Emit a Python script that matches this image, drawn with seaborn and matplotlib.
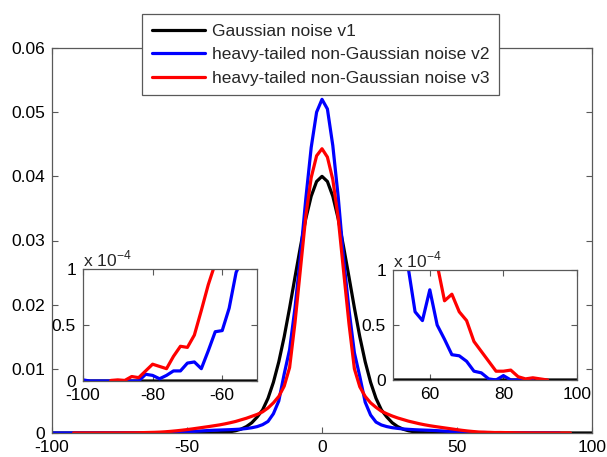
import numpy as np
import pandas as pd
import matplotlib
matplotlib.use("Agg")
import matplotlib.pyplot as plt
import seaborn as sns

# ---------------- data (density values in units of 1e-4) ----------------
x_vals = list(range(-100, 101, 2))

v1_gauss = [
    0, 0, 0, 0, 0, 0, 0, 0, 0, 0,
    0, 0, 0, 0, 0, 0, 0, 0, 0, 0,
    0, 0, 0, 0, 0, 0, 0, 0, 0, 0.1,
    0.2, 0.5, 1, 2, 3.5, 6, 10, 16, 25, 36,
    54, 79, 111, 150, 195, 243, 290, 334, 369, 392,
    400,
    392, 369, 334, 290, 243, 195, 150, 111, 79, 54,
    36, 25, 16, 10, 6, 3.5, 2, 1, 0.5, 0.2,
    0.1, 0, 0, 0, 0, 0, 0, 0, 0, 0,
    0, 0, 0, 0, 0, 0, 0, 0, 0, 0,
    0, 0, 0, 0, 0, 0, 0, 0, 0, 0,
]

v2_heavy = [
    0.01, 0, 0, 0, 0, 0, 0, 0, 0, 0.06,
    0.05, 0.02, 0.05, 0.09, 0.09, 0.16, 0.17, 0.11, 0.27, 0.44,
    0.45, 0.65, 0.97, 1.1, 1.4, 1.8, 2.3, 2.9, 3.4, 3.9,
    4.3, 4.6, 4.9, 5.2, 5.6, 6.1, 7.0, 8.2, 10, 13,
    18, 30, 50, 92, 130, 195, 275, 365, 445, 500,
    520,
    505, 448, 368, 272, 192, 125, 88, 48, 28, 17,
    12.5, 10, 8.3, 7.2, 6.3, 5.7, 5.2, 4.8, 4.5, 4.2,
    3.8, 3.3, 2.8, 2.3, 1.8, 1.35, 1.05, 0.62, 0.54, 0.82,
    0.5, 0.37, 0.23, 0.22, 0.17, 0.08, 0.065, 0.01, 0, 0.04,
    0, 0, 0, 0, np.nan, np.nan, np.nan, np.nan, np.nan, np.nan,
]

v3_heavy = [
    np.nan, np.nan, np.nan, np.nan, 0.005, 0.01, 0.005, 0.04, 0.03, 0.09,
    0.15, 0.13, 0.11, 0.22, 0.31, 0.30, 0.41, 0.63, 0.86, 1.05,
    1.4, 1.9, 2.6, 3.4, 4.3, 5.3, 6.4, 7.6, 8.8, 10,
    11.3, 12.6, 14.2, 16, 18, 20.5, 23, 26, 29, 33,
    39, 47, 57, 73, 102, 172, 255, 338, 398, 432,
    443,
    430, 395, 335, 252, 170, 100, 72, 57, 47, 40,
    34, 30, 26.5, 23.5, 21, 18.5, 16.5, 14.5, 12.8, 11.3,
    10, 8.8, 7.6, 6.4, 5.2, 4.1, 3.1, 2.3, 1.6, 1.25,
    1.05, 0.72, 0.78, 0.62, 0.54, 0.35, 0.26, 0.17, 0.08, 0.08,
    0.09, 0.03, 0.01, 0.02, 0.01, 0, np.nan, np.nan, np.nan, np.nan,
]

series_labels = ["Gaussian noise v1",
                 "heavy-tailed non-Gaussian noise v2",
                 "heavy-tailed non-Gaussian noise v3"]
series_colors = ["#000000", "#0000ff", "#ff0000"]
series_values = [v1_gauss, v2_heavy, v3_heavy]

main_xticks = [-100, -50, 0, 50, 100]
main_yticks = [0, 0.01, 0.02, 0.03, 0.04, 0.05, 0.06]
main_yticklabels = ["0", "0.01", "0.02", "0.03", "0.04", "0.05", "0.06"]
left_xticks = [-100, -80, -60]
right_xticks = [60, 80, 100]
inset_yticks = [0, 0.5, 1]
inset_yticklabels = ["0", "0.5", "1"]

# ---------------- style ----------------
sns.set_style("white")
plt.rcParams["font.family"] = ["Liberation Sans", "DejaVu Sans"]
FS = 12.5
LW = 2.3
SPINE = "0.35"

fig = plt.figure(figsize=(6.07, 4.57), dpi=100)
ax = fig.add_axes([52 / 607, 24 / 457, 540 / 607, 385 / 457])

df = pd.DataFrame({"x": x_vals})
for lab, vals in zip(series_labels, series_values):
    df[lab] = np.array(vals, dtype=float)


def style_axes(a):
    for s in a.spines.values():
        s.set_visible(True)
        s.set_color(SPINE)
        s.set_linewidth(0.9)
    a.tick_params(direction="in", length=4, width=0.8, color=SPINE,
                  labelcolor="black", labelsize=FS, top=True, right=True,
                  bottom=True, left=True, pad=5)
    a.set_xlabel("")
    a.set_ylabel("")


handles = []
for lab, col in zip(series_labels, series_colors):
    sub = pd.DataFrame({"x": df["x"], "y": df[lab] / 1e4}).dropna()
    sns.lineplot(data=sub, x="x", y="y", color=col, lw=LW, ax=ax,
                 estimator=None, sort=True)
    handles.append(ax.lines[-1])

ax.set_xlim(-100, 100)
ax.set_ylim(0, 0.06)
ax.set_xticks(main_xticks)
ax.set_xticklabels([str(t) for t in main_xticks])
ax.set_yticks(main_yticks)
ax.set_yticklabels(main_yticklabels)
style_axes(ax)

leg = ax.legend(handles, series_labels, loc="upper left",
                bbox_to_anchor=(90 / 540, 1 + 34 / 385), borderaxespad=0,
                frameon=True, fancybox=False, framealpha=1, edgecolor=SPINE,
                fontsize=FS, handlelength=3.1, handletextpad=0.4,
                borderpad=0.55, labelspacing=0.48)
leg.get_frame().set_linewidth(0.9)


def make_inset(rect, xlim, xticks):
    a = fig.add_axes(rect)
    a.set_facecolor("white")
    for lab, col in zip(series_labels, series_colors):
        sub = pd.DataFrame({"x": df["x"], "y": df[lab]}).dropna()
        sns.lineplot(data=sub, x="x", y="y", color=col, lw=LW, ax=a,
                     estimator=None, sort=True)
    a.set_xlim(*xlim)
    a.set_ylim(0, 1)
    a.set_xticks(xticks)
    a.set_xticklabels([str(t) for t in xticks])
    a.set_yticks(inset_yticks)
    a.set_yticklabels(inset_yticklabels)
    style_axes(a)
    a.text(0, 1.0, r"x 10$^{\mathregular{-4}}$", transform=a.transAxes,
           ha="left", va="bottom", fontsize=FS)
    return a


make_inset([83 / 607, (457 - 381) / 457, 174 / 607, 112 / 457], (-100, -50), left_xticks)
make_inset([393 / 607, (457 - 380) / 457, 184 / 607, 110 / 457], (50, 100), right_xticks)

fig.savefig("out.png", dpi=100)
